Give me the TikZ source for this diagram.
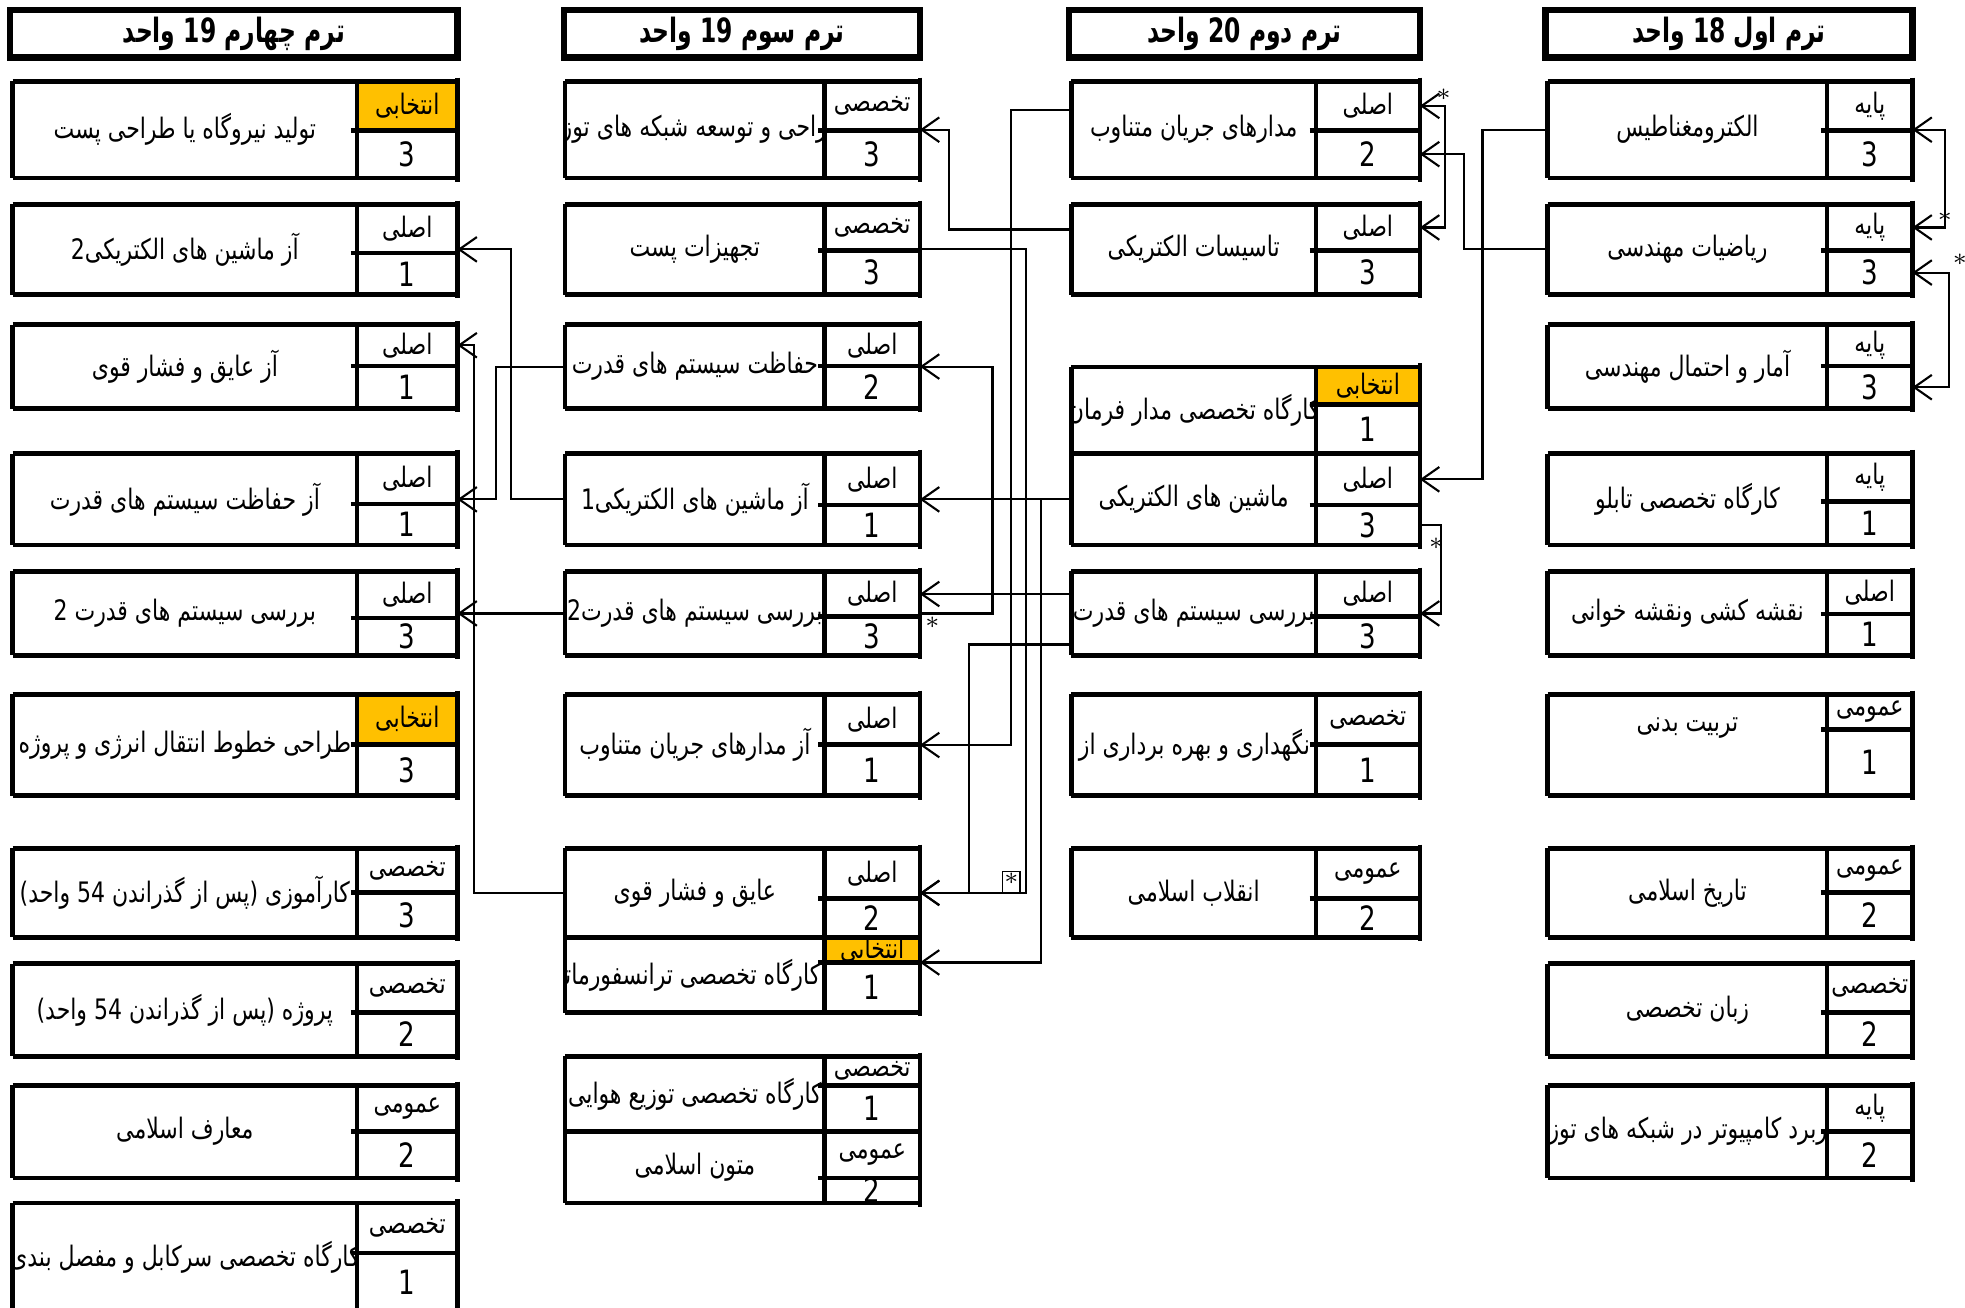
\documentclass[tikz,border=0pt]{standalone}
\usepackage{fontspec}
\newfontfamily\fa[Script=Arabic,FakeStretch=0.78]{DejaVu Sans}
\newfontfamily\fahead[Script=Arabic,FakeStretch=0.7]{DejaVu Sans}
\TeXXeTstate=1
\usepackage{tikz}
\usetikzlibrary{arrows.meta}
\usetikzlibrary{%
  calc,%
  fit%
}
\definecolor{selcol}{HTML}{FFC000}

\tikzset{
  boxline/.style={line width=1.3pt},
  conn/.style={line width=0.6pt},
  cellfit/.style={inner sep=0pt,outer sep=0pt},
  txt/.style={inner sep=0pt,font=\fontsize{8}{9}\selectfont\fa},
  unittxt/.style={inner sep=0pt,font=\fontsize{9.5}{10}\selectfont\fa},
  headbox/.style={draw,line width=1.9pt,minimum height=4.75mm,inner sep=0pt,
    font=\fontsize{9.5}{11}\selectfont\fahead\bfseries},
  ast/.style={inner sep=0pt,font=\scriptsize},
  >={Straight Barb[length=5pt,width=7pt]}
}

% left edge, divider and right edge of each term column
\def\xlone{1235}\def\xdone{1458}\def\xrone{1526}
\def\xltwo{855}\def\xdtwo{1050}\def\xrtwo{1133}
\def\xlthree{451}\def\xdthree{658}\def\xrthree{734}
\def\xlfour{10}\def\xdfour{285}\def\xrfour{365}

% #1 name, #2 term, #3 top, #4 divider, #5 bottom, #6 title, #7 kind, #8 units, #9 kind fill
\newcommand{\course}[9]{%
  \edef\cxl{\csname xl#2\endcsname}%
  \edef\cxd{\csname xd#2\endcsname}%
  \edef\cxr{\csname xr#2\endcsname}%
  \fill[#9] (\cxd,#3) rectangle (\cxr,#4);
  \node[cellfit,fit={(\cxl,#3) (\cxr,#5)}] (#1) {};
  \node[cellfit,fit={(\cxd,#3) (\cxr,#4)}] (#1-t) {};
  \node[cellfit,fit={(\cxd,#4) (\cxr,#5)}] (#1-c) {};
  \begin{scope}
    \clip (\cxl,#3) rectangle (\cxd,#5);
    \node[txt] (#1-n) at ($(\cxl,#3)!.5!(\cxd,#5)$) {#6};
  \end{scope}
  \node[txt] (#1-k) at (#1-t) {#7};
  \node[unittxt] (#1-u) at (#1-c) {#8};
  \draw[boxline] (\cxl,#3) -- (\cxr,#3) (\cxl,#5) -- (\cxr,#5)
    (\cxl,#3) -- (\cxl,#5) (\cxd,#3) -- (\cxd,#5) (\cxd-5,#4) -- (\cxr,#4);
  \draw[boxline] (\cxr,#3-3) -- (\cxr,#5+3);
}

\begin{document}
\begin{tikzpicture}[x=0.125mm,y=-0.125mm]
\path[use as bounding box] (0,0) rectangle (1568,1043);
\clip (0,0) rectangle (1568,1043);

% headers
\node[headbox,minimum width=44.6mm] (head4) at (186.5,27) {\beginR ترم چهارم 19 واحد\endR};
\node[headbox,minimum width=35.5mm] (head3) at (592,27) {\beginR ترم سوم 19 واحد\endR};
\node[headbox,minimum width=35mm] (head2) at (993,27) {\beginR ترم دوم 20 واحد\endR};
\node[headbox,minimum width=36.6mm] (head1) at (1379.5,27) {\beginR ترم اول 18 واحد\endR};

% term 1
\course{emag}{one}{65}{104}{142}{\beginR الکترومغناطیس\endR}{\beginR پایه\endR}{3}{white}
\course{riazi}{one}{163}{200}{235}{\beginR ریاضیات مهندسی\endR}{\beginR پایه\endR}{3}{white}
\course{amar}{one}{259}{292}{326}{\beginR آمار و احتمال مهندسی\endR}{\beginR پایه\endR}{3}{white}
\course{tablo}{one}{362}{400}{435}{\beginR کارگاه تخصصی تابلو\endR}{\beginR پایه\endR}{1}{white}
\course{naqshe}{one}{456}{490}{523}{\beginR نقشه کشی ونقشه خوانی\endR}{\beginR اصلی\endR}{1}{white}
\course{tarbiat}{one}{554}{582}{635}{\raisebox{4mm}{\beginR تربیت بدنی\endR}}{\beginR عمومی\endR}{1}{white}
\course{tarikh}{one}{677}{712}{748}{\beginR تاریخ اسلامی\endR}{\beginR عمومی\endR}{2}{white}
\course{zaban}{one}{769}{808}{843}{\beginR زبان تخصصی\endR}{\beginR تخصصی\endR}{2}{white}
\course{karbord}{one}{866}{903}{940}{\beginR کاربرد کامپیوتر در شبکه های توزیع\endR}{\beginR پایه\endR}{2}{white}

% term 2
\course{madar}{two}{65}{104}{142}{\beginR مدارهای جریان متناوب\endR}{\beginR اصلی\endR}{2}{white}
\course{tasisat}{two}{163}{200}{235}{\beginR تاسیسات الکتریکی\endR}{\beginR اصلی\endR}{3}{white}
\course{farman}{two}{293}{323}{362}{\beginR کارگاه تخصصی مدار فرمان\endR}{\beginR انتخابی\endR}{1}{selcol}
\course{mashin}{two}{362}{403}{435}{\beginR ماشین های الکتریکی\endR}{\beginR اصلی\endR}{3}{white}
\course{barresi}{two}{456}{492}{523}{\beginR بررسی سیستم های قدرت\endR}{\beginR اصلی\endR}{3}{white}
\course{negahdari}{two}{554}{594}{635}{\makebox[23.2mm][r]{\beginR نگهداری و بهره برداری از شبکه های توزیع\endR}}{\beginR تخصصی\endR}{1}{white}
\course{enqelab}{two}{677}{717}{748}{\beginR انقلاب اسلامی\endR}{\beginR عمومی\endR}{2}{white}

% term 3
\course{tozi}{three}{65}{104}{142}{\beginR طراحی و توسعه شبکه های توزیع\endR}{\beginR تخصصی\endR}{3}{white}
\course{tajhizat}{three}{163}{200}{235}{\beginR تجهیزات پست\endR}{\beginR تخصصی\endR}{3}{white}
\course{hefazat}{three}{259}{292}{326}{\beginR حفاظت سیستم های قدرت\endR}{\beginR اصلی\endR}{2}{white}
\course{azmashin1}{three}{362}{403}{435}{\beginR آز ماشین های الکتریکی1\endR}{\beginR اصلی\endR}{1}{white}
\course{barresi2}{three}{456}{492}{523}{\beginR بررسی سیستم های قدرت2\endR}{\beginR اصلی\endR}{3}{white}
\course{azmadar}{three}{554}{594}{635}{\beginR آز مدارهای جریان متناوب\endR}{\beginR اصلی\endR}{1}{white}
\course{ayeq}{three}{677}{717}{748}{\beginR عایق و فشار قوی\endR}{\beginR اصلی\endR}{2}{white}
\course{trans}{three}{748}{768}{808}{\makebox[25mm][r]{\beginR کارگاه تخصصی ترانسفورماتور\endR}}{\beginR انتخابی\endR}{1}{selcol}
\course{havayi}{three}{843}{866}{903}{\beginR کارگاه تخصصی توزیع هوایی\endR}{\beginR تخصصی\endR}{1}{white}
\course{motun}{three}{903}{940}{960}{\beginR متون اسلامی\endR}{\beginR عمومی\endR}{2}{white}

% term 4
\course{tolid}{four}{65}{104}{142}{\beginR تولید نیروگاه یا طراحی پست\endR}{\beginR انتخابی\endR}{3}{selcol}
\course{azmashin2}{four}{163}{202}{235}{\beginR آز ماشین های الکتریکی2\endR}{\beginR اصلی\endR}{1}{white}
\course{azayeq}{four}{259}{292}{326}{\beginR آز عایق و فشار قوی\endR}{\beginR اصلی\endR}{1}{white}
\course{azhefazat}{four}{362}{402}{435}{\beginR آز حفاظت سیستم های قدرت\endR}{\beginR اصلی\endR}{1}{white}
\course{barresi4}{four}{456}{493}{523}{\beginR بررسی سیستم های قدرت 2\endR}{\beginR اصلی\endR}{3}{white}
\course{khotut}{four}{554}{594}{635}{\beginR طراحی خطوط انتقال انرژی و پروژه\endR}{\beginR انتخابی\endR}{3}{selcol}
\course{karamuzi}{four}{677}{712}{748}{\beginR کارآموزی (پس از گذراندن 54 واحد)\endR}{\beginR تخصصی\endR}{3}{white}
\course{proje}{four}{769}{808}{843}{\beginR پروژه (پس از گذراندن 54 واحد)\endR}{\beginR تخصصی\endR}{2}{white}
\course{maaref}{four}{866}{903}{940}{\beginR معارف اسلامی\endR}{\beginR عمومی\endR}{2}{white}
\course{sarkabl}{four}{960}{1000}{1047}{\beginR کارگاه تخصصی سرکابل و مفصل بندی\endR}{\beginR تخصصی\endR}{1}{white}

% term 1 -> term 2
\draw[conn,->] (emag.west) -- ++(-52,0) |- (mashin-t.east);
\draw[conn,->] (riazi.west) -- ++(-67,0) |- (madar-c.east);
\draw[conn,<->] (emag.east) -- ++(26,0) |- (riazi-t.east);
\draw[conn,<->] (riazi-c.east) -- ++(29,0) |- (amar-c.east);
\draw[conn,<->] (madar-t.east) -- ++(20,0) |- (tasisat-t.east);
\draw[conn,->] (mashin-c.east) -- ++(17,0) |- (barresi.east);

% term 2 -> term 3
\draw[conn,->] ($(madar.north west)!.3!(madar.south west)$) -- ++(-48,0) |- (azmadar.east);
\draw[conn,->] ($(tasisat.north west)!.28!(tasisat.south west)$) -- ++(-98,0) |- (tozi.east);
\draw[conn,->] (mashin.west) -- (azmashin1.east);
\draw[conn,->] (mashin.west) -- ++(-24,0) |- (trans-t.south east);
\draw[conn,->] (barresi.west |- barresi2-t.east) -- (barresi2-t.east);
\draw[conn,->] ($(barresi.north west)!.87!(barresi.south west)$) -- ++(-82,0) |- (ayeq.east);
\draw[conn,->] (tajhizat.east) -- ++(85,0) |- (ayeq.east);
\draw[conn,<-] (hefazat.east) -- ++(58,0) |- (barresi2.east);

% term 3 -> term 4
\draw[conn,->] (azmashin1.west) -- ++(-43,0) |- (azmashin2.east);
\draw[conn,->] (hefazat.west) -- ++(-55,0) |- (azhefazat.east);
\draw[conn,->] (barresi2.west) -- (barresi4.east);
\draw[conn,->] (ayeq.west) -- ++(-73,0) |- (azayeq-t.east);

% co-requisite marks
\node[ast] (st1) at (1152,78) {*};
\node[ast] (st2) at (1552,176) {*};
\node[ast] (st3) at (1564,210) {*};
\node[ast] (st4) at (1146,437) {*};
\node[ast] (st5) at (744,500) {*};
\node[ast,draw,thin,minimum width=1.75mm,minimum height=2.2mm] (st6) at (807,704) {*};
\end{tikzpicture}
\end{document}
